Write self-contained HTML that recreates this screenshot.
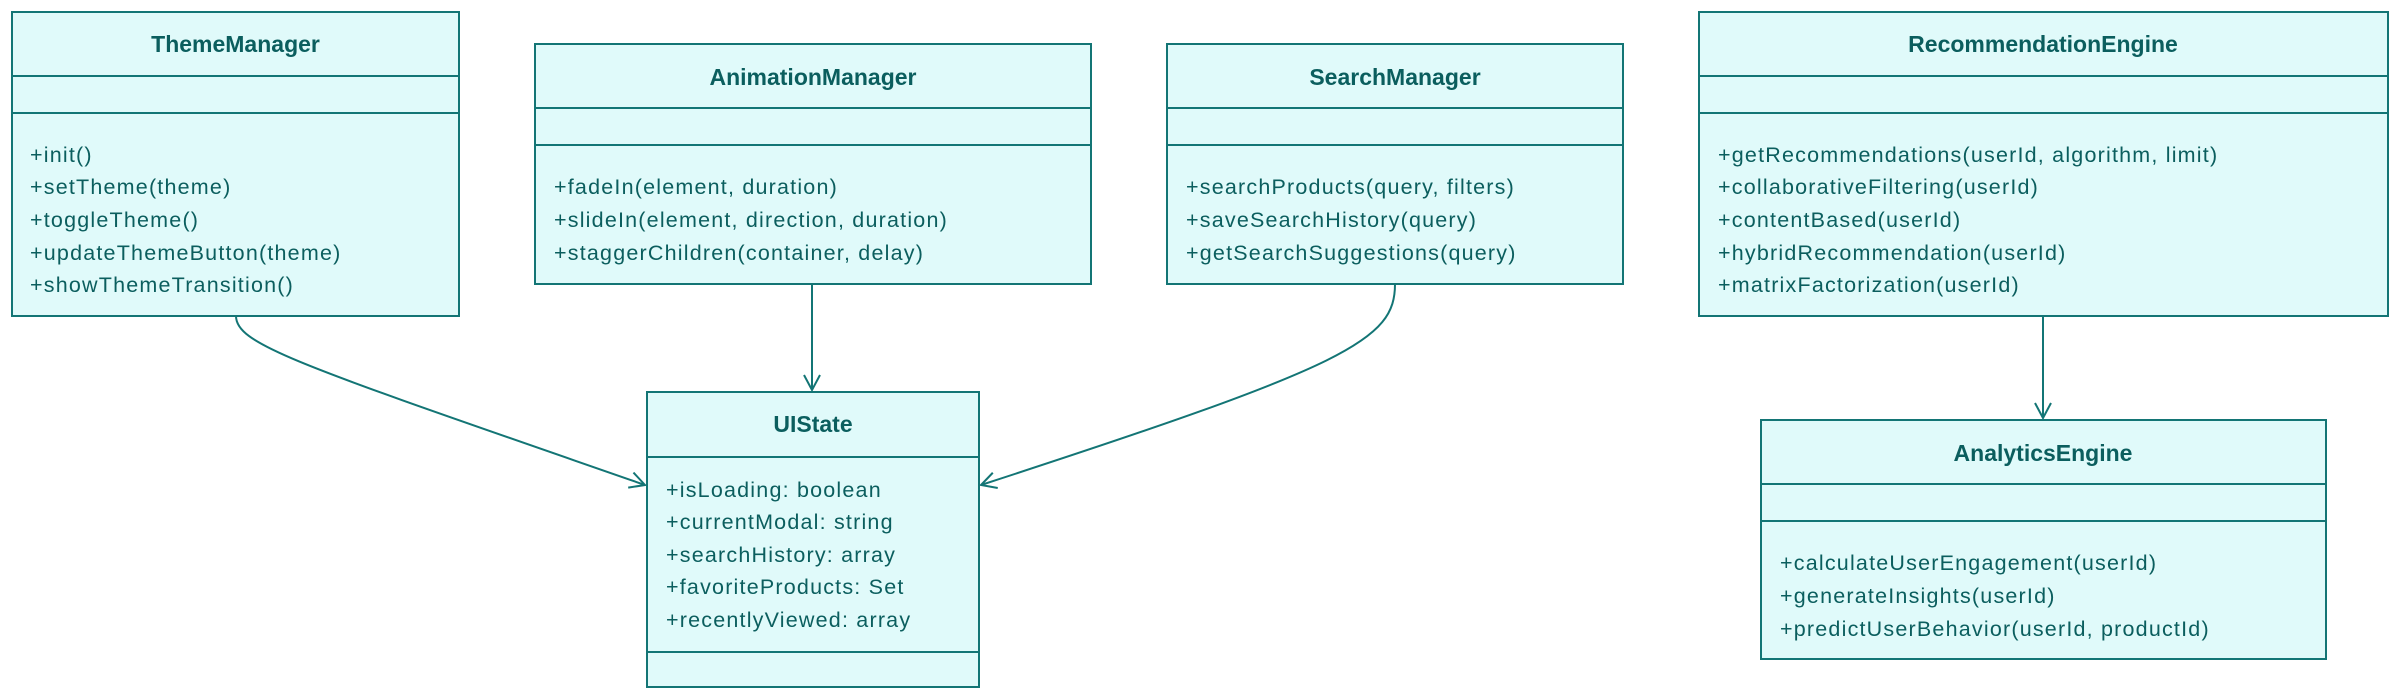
<!DOCTYPE html>
<html><head><meta charset="utf-8"><style>
html,body{margin:0;padding:0;background:#fff;}
svg{display:block}
text{font-family:"Liberation Sans","DejaVu Sans",sans-serif;fill:#0b5e5e;font-size:21.5px;letter-spacing:1.2px}
.t{font-weight:bold;font-size:23px;letter-spacing:0}
rect{fill:#e0fafa;stroke:#137575;stroke-width:2}
line.d{stroke:#137575;stroke-width:2}
path.e{fill:none;stroke:#137575;stroke-width:2}
</style></head><body>
<svg width="2400" height="696" viewBox="0 0 2400 696" xmlns="http://www.w3.org/2000/svg">
<defs><marker id="a" markerWidth="20" markerHeight="20" refX="17" refY="9" orient="auto" markerUnits="userSpaceOnUse"><path d="M2,1 L17,9 L2,17" fill="none" stroke="#137575" stroke-width="2"/></marker></defs>

<path class="e" d="M236,316 C236,345 300,365 645,485" marker-end="url(#a)"/>
<path class="e" d="M812,284 L812,390" marker-end="url(#a)"/>
<path class="e" d="M1395,284 C1395,340 1350,365 981,485" marker-end="url(#a)"/>
<path class="e" d="M2043,316 L2043,418" marker-end="url(#a)"/>

<rect x="12" y="12" width="447" height="304"/>
<line class="d" x1="12" y1="76" x2="459" y2="76"/><line class="d" x1="12" y1="113" x2="459" y2="113"/>
<text class="t" x="235.5" y="52" text-anchor="middle">ThemeManager</text>
<text x="30" y="162">+init()</text>
<text x="30" y="194">+setTheme(theme)</text>
<text x="30" y="227">+toggleTheme()</text>
<text x="30" y="260">+updateThemeButton(theme)</text>
<text x="30" y="292">+showThemeTransition()</text>

<rect x="535" y="44" width="556" height="240"/>
<line class="d" x1="535" y1="108" x2="1091" y2="108"/><line class="d" x1="535" y1="145" x2="1091" y2="145"/>
<text class="t" x="813" y="85" text-anchor="middle">AnimationManager</text>
<text x="554" y="194">+fadeIn(element, duration)</text>
<text x="554" y="227">+slideIn(element, direction, duration)</text>
<text x="554" y="260">+staggerChildren(container, delay)</text>

<rect x="1167" y="44" width="456" height="240"/>
<line class="d" x1="1167" y1="108" x2="1623" y2="108"/><line class="d" x1="1167" y1="145" x2="1623" y2="145"/>
<text class="t" x="1395" y="85" text-anchor="middle">SearchManager</text>
<text x="1186" y="194">+searchProducts(query, filters)</text>
<text x="1186" y="227">+saveSearchHistory(query)</text>
<text x="1186" y="260">+getSearchSuggestions(query)</text>

<rect x="1699" y="12" width="689" height="304"/>
<line class="d" x1="1699" y1="76" x2="2388" y2="76"/><line class="d" x1="1699" y1="113" x2="2388" y2="113"/>
<text class="t" x="2043" y="52" text-anchor="middle">RecommendationEngine</text>
<text x="1718" y="162">+getRecommendations(userId, algorithm, limit)</text>
<text x="1718" y="194">+collaborativeFiltering(userId)</text>
<text x="1718" y="227">+contentBased(userId)</text>
<text x="1718" y="260">+hybridRecommendation(userId)</text>
<text x="1718" y="292">+matrixFactorization(userId)</text>

<rect x="647" y="392" width="332" height="295"/>
<line class="d" x1="647" y1="457" x2="979" y2="457"/><line class="d" x1="647" y1="652" x2="979" y2="652"/>
<text class="t" x="813" y="432" text-anchor="middle">UIState</text>
<text x="666" y="497">+isLoading: boolean</text>
<text x="666" y="529">+currentModal: string</text>
<text x="666" y="562">+searchHistory: array</text>
<text x="666" y="594">+favoriteProducts: Set</text>
<text x="666" y="627">+recentlyViewed: array</text>

<rect x="1761" y="420" width="565" height="239"/>
<line class="d" x1="1761" y1="484" x2="2326" y2="484"/><line class="d" x1="1761" y1="521" x2="2326" y2="521"/>
<text class="t" x="2043" y="461" text-anchor="middle">AnalyticsEngine</text>
<text x="1780" y="570">+calculateUserEngagement(userId)</text>
<text x="1780" y="603">+generateInsights(userId)</text>
<text x="1780" y="636">+predictUserBehavior(userId, productId)</text>
</svg>
</body></html>
